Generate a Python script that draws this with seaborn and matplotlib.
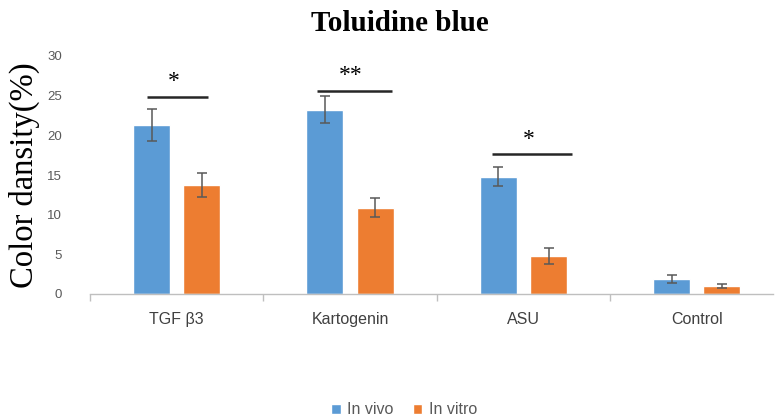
import matplotlib
matplotlib.use("Agg")
import matplotlib.pyplot as plt
import seaborn as sns
import pandas as pd

# Group labels and series
groups = ["TGF β3", "Kartogenin", "ASU", "Control"]
series = ["In vivo", "In vitro"]
in_vivo = [21.3, 23.2, 14.8, 1.9]
in_vitro = [13.7, 10.9, 4.8, 1.0]
in_vivo_err = [2.0, 1.7, 1.2, 0.5]
in_vitro_err = [1.5, 1.2, 1.0, 0.3]
y_ticks = [0, 5, 10, 15, 20, 25, 30]

# Significance brackets: (x start, x end, bar height, label)
sig_marks = [(-0.17, 0.18, 24.8, "*"), (0.81, 1.24, 25.6, "**"), (1.82, 2.28, 17.6, "*")]

df = pd.DataFrame({
    "group": groups * 2,
    "series": [series[0]] * 4 + [series[1]] * 4,
    "value": in_vivo + in_vitro,
    "err": in_vivo_err + in_vitro_err,
})

sns.set_theme(style="white")
plt.rcParams["font.family"] = ["Liberation Sans", "DejaVu Sans"]

colors = {"In vivo": "#5B9BD5", "In vitro": "#ED7D31"}
fig = plt.figure(figsize=(7.75, 4.2), dpi=100)
ax = fig.add_axes([90 / 775, 126 / 420, 683 / 775, 238 / 420])

sns.barplot(data=df, x="group", y="value", hue="series", order=groups,
            hue_order=series, palette=colors, width=0.58, gap=0.26,
            errorbar=None, saturation=1, ax=ax, legend=True)

# Error bars at the centre of each bar
for container, s in zip(ax.containers, series):
    sub = df[df["series"] == s].set_index("group").loc[groups]
    xs = [p.get_x() + p.get_width() / 2 for p in container.patches]
    ax.errorbar(xs, sub["value"], yerr=sub["err"], fmt="none",
                ecolor="#595959", elinewidth=1.1, capsize=3.5, capthick=1.1)

# Significance brackets and stars
for x0, x1, h, lab in sig_marks:
    ax.plot([x0, x1], [h, h], color="#262626", lw=1.8, solid_capstyle="butt")
    ax.text((x0 + x1) / 2 - 0.02, h + 0.6, lab, ha="center", va="bottom",
            fontsize=17, family="Liberation Serif", color="black")

ax.set_xlim(-0.5, 3.44)
ax.set_ylim(0, 30)
ax.set_yticks(y_ticks)
ax.set_xticks([-0.5, 0.5, 1.5, 2.5], minor=True)
ax.tick_params(axis="x", which="minor", bottom=True, length=5, width=1,
               color="#BFBFBF", direction="out")
ax.tick_params(axis="x", which="major", length=0, pad=13, labelsize=11.5,
               labelcolor="#404040")
ax.tick_params(axis="y", length=0, pad=20, labelsize=9.5, labelcolor="#595959")

for side in ["top", "right", "left"]:
    ax.spines[side].set_visible(False)
ax.spines["bottom"].set_color("#BFBFBF")
ax.spines["bottom"].set_linewidth(1)

ax.set_xlabel("")
ax.set_ylabel("Color dansity(%)", family="Liberation Serif", fontsize=23.5,
              color="black", labelpad=5)

fig.text(0.516, 0.945, "Toluidine blue", ha="center", va="center",
         family="Liberation Serif", fontweight="bold", fontsize=21, color="black")

leg = ax.legend(loc="center", bbox_to_anchor=(404 / 775, 10 / 420),
                bbox_transform=fig.transFigure, ncol=2, frameon=False,
                fontsize=11.5, handlelength=0.6, handleheight=0.6,
                handletextpad=0.4, columnspacing=1.2)
for t in leg.get_texts():
    t.set_color("#595959")

fig.savefig("out.png", dpi=100)
